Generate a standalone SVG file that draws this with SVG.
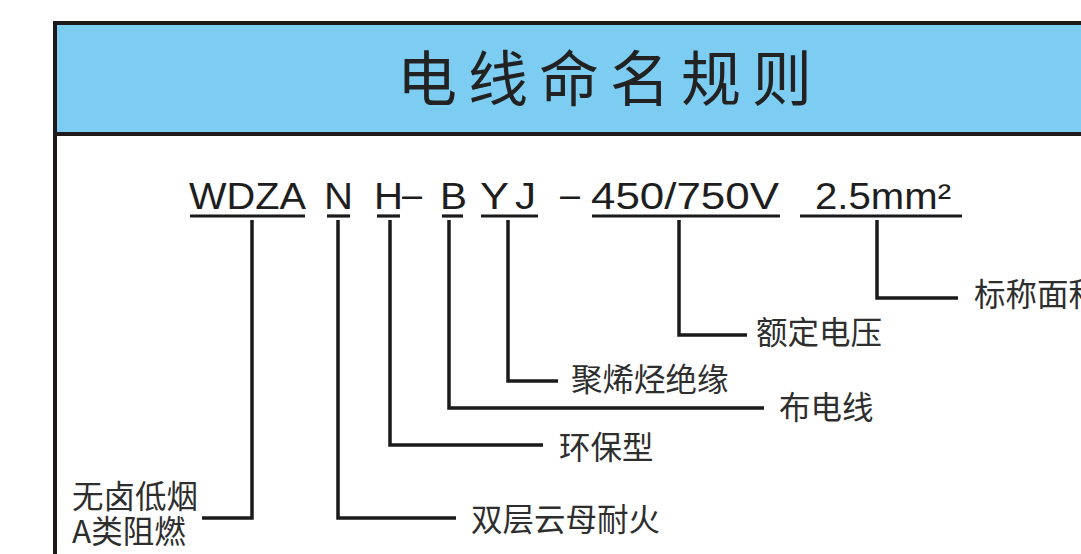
<svg xmlns="http://www.w3.org/2000/svg" width="1081" height="554" viewBox="0 0 1081 554">
  <style>
    .code { font-family: "Liberation Sans", Arial, sans-serif; font-size: 36px; fill: #1e1e1e; }
    .lbl { font-family: "Noto Sans CJK SC", "Noto Sans", sans-serif; font-size: 31.5px; fill: #2e2e2e; }
    .title { font-family: "Noto Sans CJK SC", "Noto Sans", sans-serif; font-size: 60px; fill: #222; letter-spacing: 11px; }
    .ul { stroke: #1a1a1a; stroke-width: 3.2; fill: none; }
    .conn { stroke: #1a1a1a; stroke-width: 3.5; fill: none; stroke-linejoin: miter; }
  </style>
  <rect x="0" y="0" width="1081" height="554" fill="#ffffff"/>
  <g id="frame">
    <rect x="55" y="23" width="1100" height="111" fill="#7dcdf2"/>
    <rect x="55" y="23" width="1100" height="600" fill="none" stroke="#1e1a1a" stroke-width="4"/>
    <line x1="55" y1="134" x2="1081" y2="134" stroke="#1e1a1a" stroke-width="4"/>
  </g>
  <g id="title">
    <text class="title" x="397" y="101">电线命名规则</text>
  </g>
  <g id="code">
    <text class="code" x="189" y="209" textLength="117" lengthAdjust="spacingAndGlyphs">WDZA</text>
    <text class="code" x="324" y="209" textLength="29" lengthAdjust="spacingAndGlyphs">N</text>
    <text class="code" x="374" y="209" textLength="29" lengthAdjust="spacingAndGlyphs">H</text>
    <text class="code" x="402" y="207">–</text>
    <text class="code" x="440" y="209" textLength="27" lengthAdjust="spacingAndGlyphs">B</text>
    <text class="code" x="480" y="209" textLength="29" lengthAdjust="spacingAndGlyphs">Y</text>
    <text class="code" x="515" y="209" textLength="21" lengthAdjust="spacingAndGlyphs">J</text>
    <text class="code" x="560" y="207">–</text>
    <text class="code" x="591" y="209" textLength="188" lengthAdjust="spacingAndGlyphs">450/750V</text>
    <text class="code" x="815" y="209" textLength="136" lengthAdjust="spacingAndGlyphs">2.5mm²</text>
    <line class="ul" x1="190" y1="216" x2="305" y2="216"/>
    <line class="ul" x1="327" y1="216" x2="350" y2="216"/>
    <line class="ul" x1="377" y1="216" x2="400" y2="216"/>
    <line class="ul" x1="442" y1="216" x2="463" y2="216"/>
    <line class="ul" x1="481" y1="216" x2="538" y2="216"/>
    <line class="ul" x1="592" y1="216" x2="780" y2="216"/>
    <line class="ul" x1="800" y1="216" x2="962" y2="216"/>
  </g>
  <g id="connectors">
    <polyline class="conn" points="252,220 252,518 202,518"/>
    <polyline class="conn" points="338,220 338,518 456,518"/>
    <polyline class="conn" points="390,220 390,445 543,445"/>
    <polyline class="conn" points="449,220 449,408 764,408"/>
    <polyline class="conn" points="508,220 508,381 558,381"/>
    <polyline class="conn" points="679,220 679,335 747,335"/>
    <polyline class="conn" points="877,220 877,298 958,298"/>
  </g>
  <g id="n-area"><text class="lbl" x="974" y="306">标称面积</text></g>
  <g id="n-voltage"><text class="lbl" x="756" y="344">额定电压</text></g>
  <g id="n-insulation"><text class="lbl" x="571" y="391">聚烯烃绝缘</text></g>
  <g id="n-wire"><text class="lbl" x="779" y="419">布电线</text></g>
  <g id="n-eco"><text class="lbl" x="559" y="459">环保型</text></g>
  <g id="n-fire"><text class="lbl" x="471" y="531">双层云母耐火</text></g>
  <g id="n-halogen">
    <text class="lbl" x="72" y="508">无卤低烟</text>
    <text class="lbl" x="72" y="543">A类阻燃</text>
  </g>
</svg>
